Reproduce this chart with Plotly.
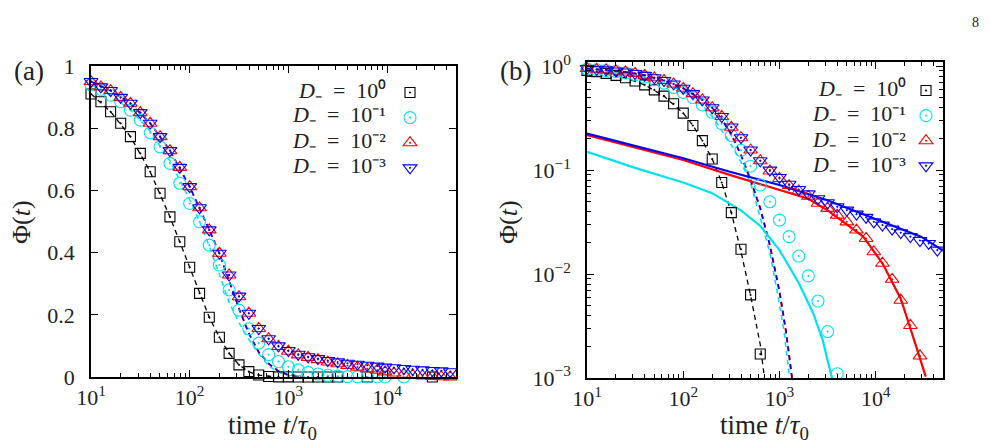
import plotly.graph_objects as go

# ---------------- data ----------------
T = [10, 12.6, 15.8, 20, 25.1, 31.6, 39.8, 50.1, 63.1, 79.4, 100, 126, 158, 200, 251,
     316, 398, 501, 631, 794, 1000, 1259, 1585, 1995, 2512, 3162, 3981, 5012, 6310,
     7943, 9550, 11750, 14800, 18200, 22900, 28800, 35500, 43650]

PHI_D1 = [0.91, 0.885, 0.853, 0.816, 0.773, 0.719, 0.660, 0.591, 0.515, 0.435, 0.353,
          0.269, 0.192, 0.128, 0.076, 0.039, 0.0173, 0.0063, 0.0017, 0.0005, 0.0003,
          0.0002, 0.0001, 0.0001, 0.00005, 0.00005, None, None, 0.00003, None, None,
          None, None, None, None, 0.00002, None, None]
PHI_D01 = [0.939, 0.925, 0.906, 0.885, 0.858, 0.826, 0.785, 0.740, 0.687, 0.623, 0.558,
           0.499, 0.424, 0.36, 0.28, 0.215, 0.155, 0.109, 0.0718, 0.0496, 0.033, 0.0229,
           0.0149, 0.0096, 0.0055, 0.0028, 0.0011, 0.0005, 0.0003, 0.0002, 0.0001, None,
           0.00005, None, None, None, None, None]
PHI_D001 = [0.95, 0.933, 0.921, 0.899, 0.880, 0.850, 0.816, 0.773, 0.728, 0.674, 0.612,
            0.544, 0.473, 0.398, 0.328, 0.258, 0.205, 0.156, 0.123, 0.098, 0.083, 0.071,
            0.063, 0.056, 0.048, 0.0428, 0.0369, 0.0318, 0.0265, 0.022, 0.0164, 0.0127,
            0.0089, 0.0056, 0.0032, 0.00163, 0.0007, 0.0003]
PHI_D0001 = [0.95, 0.933, 0.921, 0.899, 0.880, 0.850, 0.816, 0.773, 0.728, 0.674, 0.612,
             0.544, 0.473, 0.398, 0.328, 0.26, 0.205, 0.156, 0.123, 0.100, 0.085, 0.073,
             0.065, 0.059, 0.053, 0.0485, 0.0444, 0.0412, 0.0377, 0.0351, 0.0318, 0.0296,
             0.0271, 0.025, 0.0229, 0.021, 0.0197, 0.017]

# short-time fits (dashed)
FIT1_T = [10, 15.8, 25.1, 39.8, 63.1, 100, 126, 158, 200, 251, 316, 398, 501, 631, 708]
FIT1 = [0.91, 0.853, 0.773, 0.66, 0.515, 0.353, 0.269, 0.192, 0.128, 0.076, 0.039,
        0.0165, 0.0062, 0.0021, 0.0009]
FIT01_T = [10, 15.8, 25.1, 39.8, 63.1, 100, 126, 158, 200, 251, 316, 398, 501, 631,
           794, 955, 1122, 1259]
FIT01 = [0.94, 0.905, 0.86, 0.79, 0.695, 0.57, 0.5, 0.42, 0.33, 0.24, 0.175, 0.12, 0.075,
         0.035, 0.016, 0.0065, 0.0027, 0.0011]
FITS_T = [10, 15.8, 25.1, 39.8, 63.1, 100, 158, 200, 251, 316, 398, 501, 631, 794, 1000,
          1175, 1350]
FITS = [0.95, 0.921, 0.880, 0.816, 0.728, 0.612, 0.473, 0.398, 0.31, 0.22, 0.14, 0.08,
        0.043, 0.019, 0.0068, 0.0027, 0.001]

# long-time fits (solid, log panel)
LONG01_T = [10, 31.6, 100, 200, 398, 631, 1000, 1585, 2239, 2818, 3548]
LONG01 = [0.150, 0.105, 0.076, 0.060, 0.041, 0.029, 0.017, 0.0082, 0.0042, 0.0023, 0.00095]
LONG001_T = [10, 31.6, 100, 316, 1000, 1995, 3162, 5012, 7413, 11750, 18200, 25120, 33110]
LONG001 = [0.217, 0.165, 0.125, 0.089, 0.064, 0.053, 0.041, 0.030, 0.0229, 0.0127,
           0.0058, 0.0023, 0.00103]
LONG0001_T = [10, 100, 305, 1000, 3090, 10000, 29500, 50119]
LONG0001 = [0.225, 0.130, 0.0964, 0.072, 0.0515, 0.034, 0.0229, 0.0168]

LABELS = ["<i>D</i>\u208b\u2002=\u200210\u2070",
          "<i>D</i>\u208b\u2002=\u200210\u207b\u00b9",
          "<i>D</i>\u208b\u2002=\u200210\u207b\u00b2",
          "<i>D</i>\u208b\u2002=\u200210\u207b\u00b3"]
X_TICKVALS = [10, 100, 1000, 10000]
X_TICKTEXT = ["10<sup>1</sup>", "10<sup>2</sup>", "10<sup>3</sup>", "10<sup>4</sup>"]
YLIN_TICKVALS = [0, 0.2, 0.4, 0.6, 0.8, 1]
YLIN_TICKTEXT = ["0", "0.2", "0.4", "0.6", "0.8", "1"]
YLOG_TICKVALS = [0.001, 0.01, 0.1, 1]
YLOG_TICKTEXT = ["10<sup>−3</sup>", "10<sup>−2</sup>", "10<sup>−1</sup>", "10<sup>0</sup>"]

# ---------------- styling ----------------
W, H = 990, 446
FONT = "Liberation Serif"
CYAN = "#00e3ef"
series = [
    (PHI_D1, "black", "square-open-dot", 10),
    (PHI_D01, CYAN, "circle-open-dot", 12),
    (PHI_D001, "red", "triangle-up-open-dot", 12),
    (PHI_D0001, "blue", "triangle-down-open-dot", 12),
]

fig = go.Figure()

def add_line(tx, ty, color, dash, width, xa, ya):
    fig.add_trace(go.Scatter(x=tx, y=ty, mode="lines", xaxis=xa, yaxis=ya,
                             line=dict(color=color, dash=dash, width=width),
                             showlegend=False, hoverinfo="skip"))

# left panel dashed fits
add_line(FIT1_T, FIT1, "black", "5px,4px", 1.3, "x", "y")
add_line(FIT01_T, FIT01, CYAN, "5px,4px", 1.5, "x", "y")
add_line(FITS_T, FITS, "red", "5px,4px", 1.8, "x", "y")
add_line(FITS_T, FITS, "blue", "5px,4px", 1.4, "x", "y")

# right panel lines
add_line(FIT1_T, FIT1, "black", "5px,4px", 1.3, "x2", "y2")
add_line(FIT01_T, FIT01, CYAN, "5px,4px", 1.6, "x2", "y2")
add_line(FITS_T, FITS, "red", "5px,4px", 2.0, "x2", "y2")
add_line(FITS_T, FITS, "blue", "5px,4px", 1.5, "x2", "y2")
add_line(LONG01_T, LONG01, CYAN, "solid", 2.2, "x2", "y2")
add_line(LONG001_T, LONG001, "red", "solid", 2.2, "x2", "y2")
add_line(LONG0001_T, LONG0001, "blue", "solid", 2.2, "x2", "y2")

# markers
for vals, col, sym, sz in series:
    fig.add_trace(go.Scatter(x=T, y=vals, mode="markers", xaxis="x", yaxis="y",
                             marker=dict(symbol=sym, color=col, size=sz,
                                         line=dict(width=1.1, color=col)),
                             cliponaxis=False, name="\u00a0", legend="legend",
                             showlegend=True))
for vals, col, sym, sz in series:
    vv = [v if (v is not None and v >= 0.00095) else None for v in vals]
    fig.add_trace(go.Scatter(x=T, y=vv, mode="markers", xaxis="x2", yaxis="y2",
                             marker=dict(symbol=sym, color=col, size=sz,
                                         line=dict(width=1.1, color=col)),
                             cliponaxis=False, name="\u00a0", legend="legend2",
                             showlegend=True))

def px(x):
    return x / W

def py(y):
    return 1 - y / H

axis_common = dict(showline=True, linecolor="black", linewidth=1.5, mirror="ticks",
                   ticks="inside", ticklen=7, tickwidth=1.2, tickcolor="black",
                   showgrid=False, zeroline=False, automargin=False,
                   tickfont=dict(family=FONT, size=22, color="#222"))
minor_log = dict(ticks="inside", ticklen=4, tickwidth=1, tickcolor="black",
                 dtick="D1", showgrid=False)

fig.update_layout(
    template="none",
    width=W, height=H, margin=dict(l=0, r=0, t=0, b=0, pad=0, autoexpand=False),
    autosize=False,
    paper_bgcolor="white", plot_bgcolor="white",
    xaxis=dict(type="log", range=[1, 4.699], domain=[px(91), px(456)], anchor="y",
               tickvals=X_TICKVALS, ticktext=X_TICKTEXT, minor=minor_log,
               ticklabelstandoff=0, **axis_common),
    yaxis=dict(range=[0, 1], domain=[py(377), py(66)], anchor="x",
               tickvals=YLIN_TICKVALS, ticktext=YLIN_TICKTEXT,
               ticklabelstandoff=10, **axis_common),
    xaxis2=dict(type="log", range=[1, 4.699], domain=[px(587), px(943)], anchor="y2",
                tickvals=X_TICKVALS, ticktext=X_TICKTEXT, minor=minor_log,
                ticklabelstandoff=0, **axis_common),
    yaxis2=dict(type="log", range=[-3, 0.04], domain=[py(378), py(62)], anchor="x2",
                tickvals=YLOG_TICKVALS, ticktext=YLOG_TICKTEXT, minor=minor_log,
                ticklabelstandoff=10, **axis_common),
    legend=dict(x=px(390), y=py(75), xanchor="left", yanchor="top",
                bgcolor="rgba(0,0,0,0)", font=dict(family=FONT, size=17),
                tracegroupgap=0, itemwidth=30, borderwidth=0),
    legend2=dict(x=px(906), y=py(73), xanchor="left", yanchor="top",
                 bgcolor="rgba(0,0,0,0)", font=dict(family=FONT, size=17),
                 tracegroupgap=0, itemwidth=30, borderwidth=0),
)

ann = []
def text(x, y, s, size, xanchor="center", angle=0, color="#222"):
    ann.append(dict(x=px(x), y=py(y), xref="paper", yref="paper", text=s,
                    showarrow=False, xanchor=xanchor, yanchor="middle",
                    textangle=angle, font=dict(family=FONT, size=size, color=color)))

for j, lab in enumerate(LABELS):
    text(388, 90 + 25 * j, lab, 22, xanchor="right")
    text(908, 88 + 25.5 * j, lab, 22, xanchor="right")

text(29, 71, "(a)", 27)
text(515, 71, "(b)", 27)
text(975, 22, "8", 14)
text(21, 222, "Φ(<i>t</i>)", 26, angle=-90)
text(508, 222, "Φ(<i>t</i>)", 26, angle=-90)
text(272, 427, "time <i>t</i>/<i>τ</i><sub>0</sub>", 27)
text(764, 427, "time <i>t</i>/<i>τ</i><sub>0</sub>", 27)
fig.update_layout(annotations=ann)

fig.write_html("out.html",
               post_script="document.body.style.margin='0px';"
                           "document.body.style.overflow='hidden';")
